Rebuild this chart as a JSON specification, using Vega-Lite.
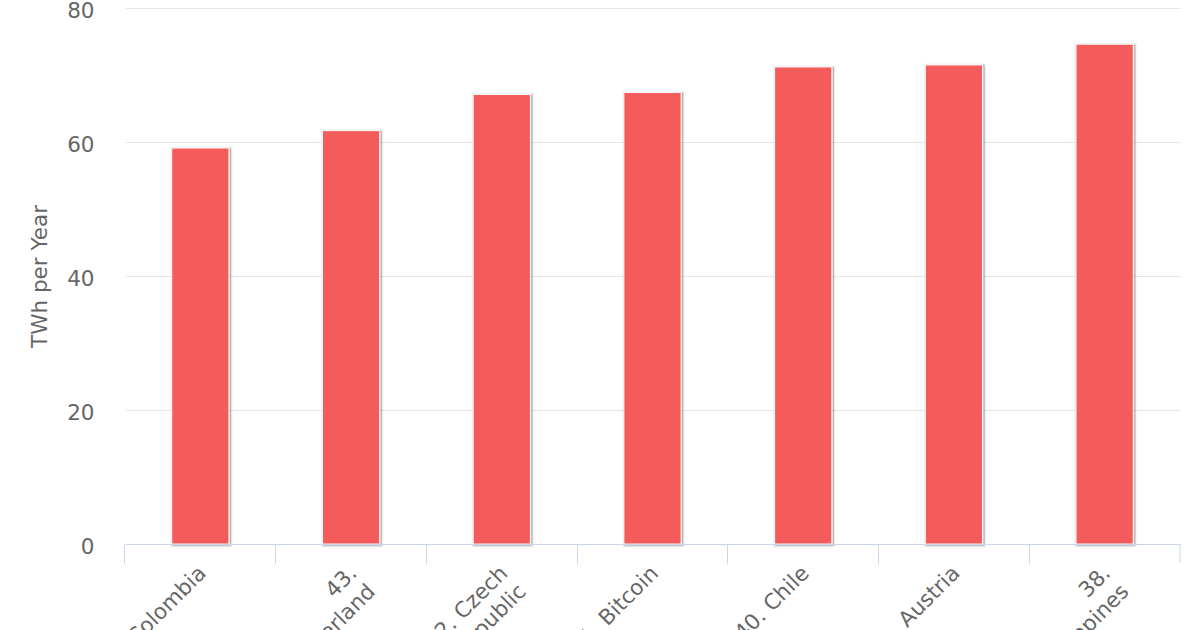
{
  "$schema": "https://vega.github.io/schema/vega-lite/v6.json",
  "autosize": {"type": "none"},
  "width": 1055,
  "height": 536,
  "padding": {"left": 125, "top": 8, "right": 20, "bottom": 86},
  "background": "white",
  "config": {"view": {"stroke": null}, "font": "DejaVu Sans"},
  "data": {"values": [
    {"country": "44. Colombia", "twh": 59.1},
    {"country": "43. Switzerland", "twh": 61.7},
    {"country": "42. Czech Republic", "twh": 67.1},
    {"country": "41. Bitcoin", "twh": 67.4},
    {"country": "40. Chile", "twh": 71.2},
    {"country": "39. Austria", "twh": 71.5},
    {"country": "38. Philippines", "twh": 74.6}
  ]},
  "encoding": {
    "x": {
      "field": "country", "type": "nominal", "sort": null,
      "scale": {"paddingInner": 0.62, "paddingOuter": 0.31},
      "axis": {
        "title": null,
        "bandPosition": -0.8158,
        "labelOffset": -5,
        "labelAngle": -45,
        "labelAlign": "right",
        "labelBaseline": "top",
        "labelPadding": -1,
        "labelFontSize": 21.5,
        "labelColor": "#666666",
        "labelLineHeight": 26,
        "labelExpr": "datum.value == '43. Switzerland' ? ['43.', 'Switzerland'] : datum.value == '42. Czech Republic' ? ['42. Czech', 'Republic'] : datum.value == '38. Philippines' ? ['38.', 'Philippines'] : datum.value",
        "tickColor": "#ccd6eb",
        "tickSize": 19,
        "domainColor": "#ccd6eb",
        "labelOverlap": false,
        "labelBound": false,
        "zindex": 1
      }
    },
    "y": {
      "field": "twh", "type": "quantitative",
      "scale": {"domain": [0, 80], "nice": false},
      "axis": {
        "title": "TWh per Year",
        "titleFontSize": 21.5,
        "titleFontWeight": "normal",
        "titleColor": "#666666",
        "titlePadding": 15,
        "values": [0, 20, 40, 60, 80],
        "domain": false,
        "ticks": false,
        "tickSize": 0,
        "labelPadding": 31,
        "labelOffset": 3,
        "labelFontSize": 21.5,
        "labelColor": "#666666",
        "gridColor": "#e6e6e6",
        "gridWidth": 1
      }
    }
  },
  "layer": [
    {"mark": {"type": "bar", "fill": "#000000", "fillOpacity": 0, "stroke": "#000000", "strokeOpacity": 0.05, "strokeWidth": 5, "xOffset": 1, "yOffset": 1}},
    {"mark": {"type": "bar", "fill": "#000000", "fillOpacity": 0, "stroke": "#000000", "strokeOpacity": 0.1, "strokeWidth": 3, "xOffset": 1, "yOffset": 1}},
    {"mark": {"type": "bar", "fill": "#000000", "fillOpacity": 0, "stroke": "#000000", "strokeOpacity": 0.18, "strokeWidth": 1, "xOffset": 1.5, "yOffset": 1}},
    {"mark": {"type": "bar", "fill": "#f45b5b", "stroke": "#ffffff", "strokeWidth": 1}},
    {
      "data": {"values": [{"country": "38. Philippines", "lo": 0, "hi": -2.84}]},
      "mark": {"type": "rule", "color": "#ccd6eb", "strokeWidth": 1},
      "encoding": {
        "x": {"field": "country", "type": "nominal", "bandPosition": 1.8158},
        "y": {"field": "lo", "type": "quantitative"},
        "y2": {"field": "hi"}
      }
    }
  ]
}
